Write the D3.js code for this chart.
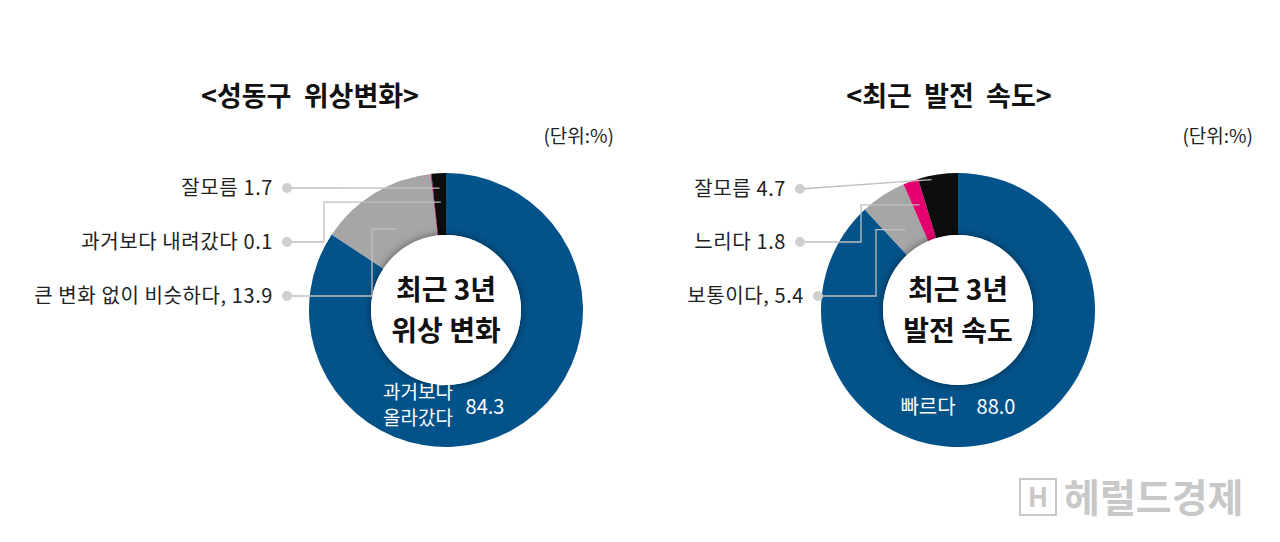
<!DOCTYPE html>
<html><head><meta charset="utf-8">
<script src="https://cdn.jsdelivr.net/npm/d3@7"></script>
<style>body{margin:0;background:#fff;font-family:"Noto Sans CJK KR","Noto Sans",sans-serif}</style>
</head><body>
<svg id="c" width="1280" height="542"></svg>
<script>
var titles = ['<성동구  위상변화>', '<최근  발전  속도>'];
var centerText = [['최근 3년', '위상 변화'], ['최근 3년', '발전 속도']];
var catsLeft = ['과거보다 올라갔다', '큰 변화 없이 비슷하다,', '과거보다 내려갔다', '잘모름'];
var valsLeft = [84.3, 13.9, 0.1, 1.7];
var catsRight = ['빠르다', '보통이다,', '느리다', '잘모름'];
var valsRight = [88.0, 5.4, 1.8, 4.7];
var colors = ['#03538a', '#a6a6a6', '#e6006f', '#0d0d0d'];

var svg = d3.select('#c');
var outerR = 137, innerR = 75;

var defs = svg.append('defs');
var f = defs.append('filter').attr('id', 'sh').attr('x', '-30%').attr('y', '-30%').attr('width', '160%').attr('height', '160%');
f.append('feDropShadow').attr('dx', 0).attr('dy', 0).attr('stdDeviation', 4).attr('flood-color', '#000').attr('flood-opacity', 0.5);

function donut(cx, cy, tx, ux, cats, vals, title, ctext, labels) {
  var g = svg.append('g').attr('transform', 'translate(' + cx + ',' + cy + ')');
  var pie = d3.pie().sort(null).value(function(d) { return d; });
  var arc = d3.arc().innerRadius(innerR).outerRadius(outerR);
  var arcs = pie(vals);
  g.selectAll('path').data(arcs).enter().append('path')
    .attr('d', arc).attr('fill', function(d, i) { return colors[i]; });
  g.append('circle').attr('r', innerR).attr('fill', '#fff').attr('filter', 'url(#sh)');

  svg.append('text').attr('x', tx).attr('y', 106).attr('text-anchor', 'middle')
    .attr('font-size', 27).attr('font-weight', 'bold').attr('fill', '#111').attr('xml:space', 'preserve').text(title);
  svg.append('text').attr('x', ux).attr('y', 143).attr('text-anchor', 'end')
    .attr('font-size', 19).attr('fill', '#222').text('(단위:%)');
  ctext.forEach(function(t, i) {
    g.append('text').attr('y', -10 + i * 41).attr('text-anchor', 'middle')
      .attr('font-size', 28).attr('font-weight', 'bold').attr('fill', '#111').text(t);
  });

  labels.forEach(function(L) {
    var a = arcs[L.i];
    var ang = L.ang != null ? L.ang : (a.startAngle + a.endAngle) / 2;
    var ex = cx + Math.sin(ang) * L.r, ey = cy - Math.cos(ang) * L.r;
    var pts = L.kx != null ? [[L.dx, L.y], [L.kx, L.y], [L.kx, ey], [ex, ey]] : [[L.dx, L.y], [ex, ey]];
    svg.append('path').attr('d', d3.line()(pts)).attr('fill', 'none').attr('stroke', '#bfbfbf').attr('stroke-width', 1.3);
    svg.append('circle').attr('cx', L.dx).attr('cy', L.y).attr('r', 5).attr('fill', '#cfcfcf');
    svg.append('text').attr('x', L.dx - 14).attr('y', L.y + 7).attr('text-anchor', 'end')
      .attr('font-size', 20).attr('letter-spacing', 0.6).attr('fill', '#222').text(cats[L.i] + ' ' + vals[L.i].toFixed(1));
  });
}

donut(446, 310, 310, 614, catsLeft, valsLeft, titles[0], centerText[0], [
  { i: 3, dx: 287, y: 188, r: 122 },
  { i: 2, dx: 287, y: 242, kx: 324, r: 108, ang: -0.048 },
  { i: 1, dx: 287, y: 296, kx: 372, r: 95, ang: -0.55 }
]);
donut(958, 310, 949, 1253, catsRight, valsRight, titles[1], centerText[1], [
  { i: 3, dx: 800, y: 189, r: 133, ang: -0.2 },
  { i: 2, dx: 800, y: 242, kx: 861, r: 112 },
  { i: 1, dx: 818, y: 296, kx: 876, r: 96 }
]);

svg.append('text').attr('x', 418).attr('y', 399).attr('text-anchor', 'middle').attr('font-size', 19).attr('fill', '#fff').text('과거보다');
svg.append('text').attr('x', 418).attr('y', 425).attr('text-anchor', 'middle').attr('font-size', 19).attr('fill', '#fff').text('올라갔다');
svg.append('text').attr('x', 485).attr('y', 414).attr('text-anchor', 'middle').attr('font-size', 20).attr('fill', '#fff').text(valsLeft[0].toFixed(1));
svg.append('text').attr('x', 928).attr('y', 414).attr('text-anchor', 'middle').attr('font-size', 20).attr('fill', '#fff').text('빠르다');
svg.append('text').attr('x', 996).attr('y', 414).attr('text-anchor', 'middle').attr('font-size', 20).attr('fill', '#fff').text(valsRight[0].toFixed(1));

svg.append('rect').attr('x', 1020).attr('y', 479).attr('width', 36).attr('height', 36).attr('fill', 'none').attr('stroke', '#c8c8c8').attr('stroke-width', 2);
svg.append('text').attr('x', 1038).attr('y', 507).attr('text-anchor', 'middle').attr('font-size', 27).attr('font-weight', 'bold').attr('fill', '#c8c8c8').text('H');
svg.append('text').attr('x', 1064).attr('y', 512).attr('font-size', 39).attr('font-weight', 'bold').attr('fill', '#c8c8c8').text('헤럴드경제');
</script>
</body></html>
